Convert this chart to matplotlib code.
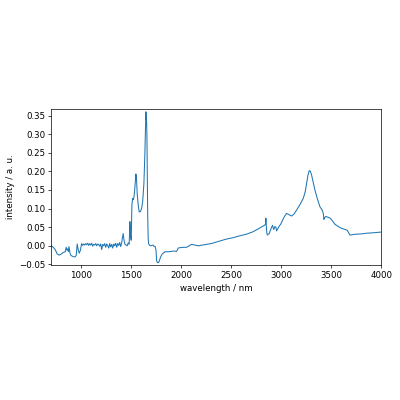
from matplotlib import pyplot as plt

wavelength = [700, 720, 740, 760, 780, 800, 820, 840, 850, 858, 865, 872, 878, 885, 895, 905,
              920, 937, 950, 960, 968, 980, 992, 1004, 1015, 1025, 1035, 1045, 1055, 1065,
              1075, 1085, 1095, 1105, 1115, 1125, 1135, 1145, 1155, 1165, 1175, 1185, 1195,
              1205, 1215, 1225, 1235, 1245, 1255, 1265, 1275, 1285, 1295, 1305, 1315, 1325,
              1335, 1345, 1355, 1365, 1375, 1385, 1395, 1405, 1412, 1420, 1428, 1438, 1450,
              1460, 1470, 1480, 1487, 1493, 1500, 1507, 1514, 1520, 1527, 1535, 1542, 1547,
              1553, 1560, 1570, 1580, 1592, 1604, 1615, 1627, 1637, 1643, 1647, 1651, 1654,
              1657, 1660, 1665, 1670, 1674, 1682, 1694, 1705, 1720, 1730, 1740, 1748, 1754,
              1762, 1774, 1784, 1794, 1810, 1837, 1870, 1900, 1930, 1954, 1970, 1987, 2020,
              2054, 2080, 2104, 2135, 2170, 2210, 2254, 2300, 2387, 2450, 2520, 2587, 2650,
              2720, 2787, 2837, 2843, 2847, 2851, 2856, 2862, 2870, 2880, 2893, 2904, 2914,
              2920, 2927, 2937, 2947, 2954, 2960, 2970, 2980, 2995, 3014, 3035, 3054, 3075,
              3104, 3130, 3154, 3190, 3220, 3240, 3254, 3268, 3280, 3292, 3304, 3320, 3337,
              3360, 3387, 3405, 3414, 3422, 3427, 3435, 3447, 3465, 3487, 3510, 3537, 3570,
              3604, 3637, 3660, 3687, 3737, 3800, 3860, 3920, 3960, 4000]
intensity = [0.000, -0.004, -0.010, -0.022, -0.025, -0.022, -0.018, -0.016, -0.004, -0.012,
             -0.008, -0.015, -0.002, -0.016, -0.025, -0.027, -0.029, -0.030, -0.026, 0.005,
             -0.008, -0.020, -0.012, 0.006, 0.001, 0.005, 0.002, 0.006, 0.003, 0.007, 0.001,
             0.006, 0.002, 0.007, -0.001, 0.004, 0.002, 0.006, 0.000, 0.005, 0.003, -0.001,
             0.005, -0.010, 0.004, 0.000, 0.006, -0.004, 0.005, 0.001, -0.006, 0.006, -0.003,
             0.004, -0.006, 0.005, 0.000, 0.007, -0.004, 0.006, 0.001, 0.009, -0.002, 0.008,
             0.022, 0.033, 0.015, 0.004, 0.002, 0.000, 0.008, 0.004, 0.065, 0.030, 0.015,
             0.110, 0.127, 0.124, 0.130, 0.150, 0.175, 0.193, 0.180, 0.140, 0.110, 0.091,
             0.092, 0.100, 0.120, 0.167, 0.250, 0.320, 0.360, 0.340, 0.333, 0.300, 0.212,
             0.080, 0.020, 0.006, 0.002, 0.000, 0.001, 0.002, -0.002, -0.002, -0.012, -0.040,
             -0.045, -0.045, -0.038, -0.030, -0.022, -0.016, -0.016, -0.015, -0.014, -0.015,
             -0.006, -0.005, -0.004, -0.004, 0.000, 0.004, 0.002, 0.000, 0.002, 0.004, 0.006,
             0.013, 0.018, 0.022, 0.027, 0.031, 0.038, 0.048, 0.056, 0.058, 0.074, 0.054,
             0.035, 0.029, 0.031, 0.033, 0.042, 0.050, 0.055, 0.048, 0.044, 0.052, 0.050,
             0.040, 0.043, 0.048, 0.053, 0.058, 0.069, 0.080, 0.087, 0.084, 0.080, 0.086,
             0.096, 0.112, 0.127, 0.145, 0.168, 0.190, 0.202, 0.200, 0.190, 0.170, 0.150,
             0.128, 0.105, 0.098, 0.093, 0.085, 0.071, 0.076, 0.079, 0.077, 0.075, 0.068,
             0.058, 0.052, 0.047, 0.044, 0.042, 0.029, 0.031, 0.032, 0.034, 0.035, 0.036,
             0.037]

fig = plt.figure(figsize=(6.4, 6.4), dpi=62.5)
ax = fig.add_axes([0.128, 0.3375, 0.825, 0.39])
ax.plot(wavelength, intensity, lw=1.2, color='#1f77b4')
ax.set_xlim(700, 4000)
ax.set_ylim(-0.0515, 0.3675)
ax.set_xticks([1000, 1500, 2000, 2500, 3000, 3500, 4000])
ax.set_yticks([-0.05, 0.00, 0.05, 0.10, 0.15, 0.20, 0.25, 0.30, 0.35])
ax.set_xlabel('wavelength / nm')
ax.set_ylabel('intensity / a. u.')

plt.savefig('out.png', dpi=62.5)
